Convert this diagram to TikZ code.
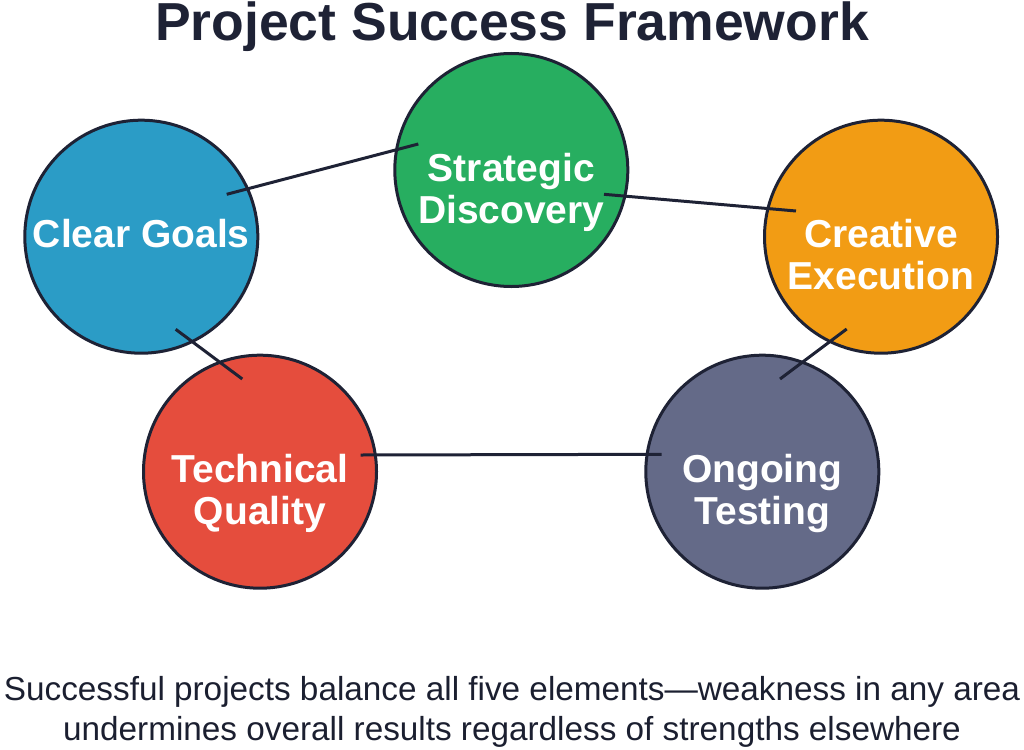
\documentclass[tikz,border=0pt]{standalone}
\usepackage{fontspec}
\setmainfont{Liberation Sans}
\usetikzlibrary{calc}
\definecolor{navy}{HTML}{1E2235}
\definecolor{cblue}{HTML}{2B9CC6}
\definecolor{cgreen}{HTML}{27AE60}
\definecolor{corange}{HTML}{F29C14}
\definecolor{cslate}{HTML}{646A88}
\definecolor{cred}{HTML}{E54D3D}
\tikzset{
  disc/.style={circle, draw=navy, line width=3pt, minimum size=233pt, inner sep=0pt},
  lbl/.style={text=white, font=\fontsize{39}{42}\selectfont\bfseries, align=center, anchor=base},
  link/.style={draw=navy, line width=3pt},
  titletext/.style={text=navy, font=\fontsize{53.5}{60}\selectfont\bfseries, anchor=base, inner sep=0pt},
  notetext/.style={text=navy!90!black, font=\fontsize{33.3}{40}\selectfont, align=center, anchor=base, inner sep=0pt}
}
\begin{document}
\begin{tikzpicture}[x=1pt, y=-1pt]
\useasboundingbox (0,0) rectangle (1024,749);
\node[titletext] (title) at (512,41) {Project Success Framework};
% circles
\node[disc, fill=cblue]   (cg) at (141.3,236.7) {};
\node[disc, fill=cgreen]  (sd) at (511.3,170) {};
\node[disc, fill=corange] (ce) at (881,236.7) {};
\node[disc, fill=cslate]  (ot) at (762.3,471.7) {};
\node[disc, fill=cred]    (tq) at (260,471.7) {};
% labels (base anchor = baseline of the last line)
\node[lbl] (cgl) at ($(cg)+(0,11)$) {Clear Goals};
\node[lbl] (sdl) at ($(sd)+(0,53)$) {Strategic\\Discovery};
\node[lbl] (cel) at ($(ce)+(0,53)$) {Creative\\Execution};
\node[lbl] (otl) at ($(ot)+(0,53)$) {Ongoing\\Testing};
\node[lbl] (tql) at ($(tq)+(0,53)$) {Technical\\Quality};
% connectors
\draw[link] ($(cg)+(85.4,-42.4)$) -- ($(sd)+(-93,-26)$);
\draw[link] ($(sd)+(92.7,24.3)$) -- ($(ce)+(-85,-25.7)$);
\draw[link] ($(ce)+(-34.3,92.3)$) -- ($(ot)+(17.7,-92.7)$);
\draw[link] ($(ot)+(-100.6,-17.4)$) -- ($(tq)+(100.7,-16.7)$);
\draw[link] ($(tq)+(-17.7,-92.7)$) -- ($(cg)+(34.4,92.6)$);
% note
\node[notetext] (note) at (512,740) {Successful projects balance all five elements—weakness in any area\\undermines overall results regardless of strengths elsewhere};
\end{tikzpicture}
\end{document}
